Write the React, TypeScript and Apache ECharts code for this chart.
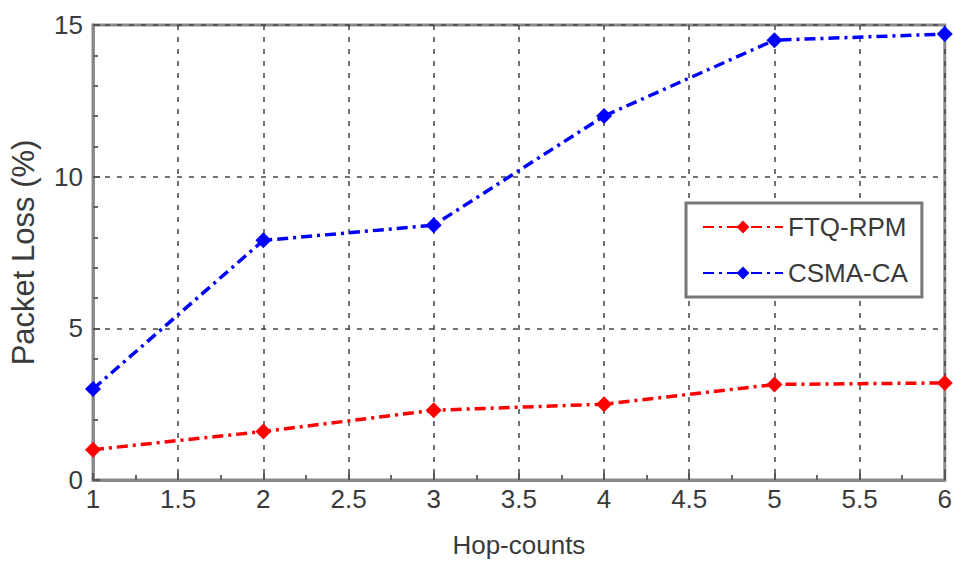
import React, { useEffect, useRef } from "react";
import * as echarts from "echarts";

const hops = [1, 2, 3, 4, 5, 6];
const ftqRpm = [1.0, 1.6, 2.3, 2.5, 3.15, 3.2];
const csmaCa = [3.0, 7.9, 8.4, 12.0, 14.5, 14.7];
const xTicks = [1, 1.5, 2, 2.5, 3, 3.5, 4, 4.5, 5, 5.5, 6];
const yTicks = [0, 5, 10, 15];

const FONT = "'Liberation Sans', Arial, sans-serif";
const TEXT = "#3a3a3a";

export default function App() {
  const ref = useRef<HTMLDivElement>(null);
  useEffect(() => {
    if (!ref.current) return;
    const chart = echarts.init(ref.current, undefined, { renderer: "svg" });
    const dashDot = [11, 5, 3, 5];
    chart.setOption({
      animation: false,
      backgroundColor: "#ffffff",
      grid: {
        left: 92,
        right: 8,
        top: 25,
        bottom: 85,
        show: true,
        borderColor: "#8a8a8a",
        borderWidth: 3,
      },
      legend: {
        orient: "vertical",
        left: 686,
        top: 203,
        padding: [9, 14, 9, 16],
        itemGap: 16,
        itemWidth: 80,
        itemHeight: 16,
        borderColor: "#777",
        borderWidth: 3,
        backgroundColor: "#fff",
        textStyle: { fontFamily: FONT, fontSize: 26, lineHeight: 30, color: TEXT },
        data: ["FTQ-RPM", "CSMA-CA"],
      },
      xAxis: {
        type: "value",
        min: 1,
        max: 6,
        interval: 0.5,
        name: "Hop-counts",
        nameLocation: "middle",
        nameGap: 52,
        nameTextStyle: { fontFamily: FONT, fontSize: 26, color: TEXT },
        axisLine: { show: true, lineStyle: { color: "#8a8a8a", width: 3 } },
        axisTick: { show: true, inside: true, length: 7, lineStyle: { color: "#555", width: 2 } },
        minorTick: { show: true, splitNumber: 2, length: 5, lineStyle: { color: "#666", width: 2 } },
        axisLabel: {
          fontFamily: FONT,
          fontSize: 26,
          color: TEXT,
          margin: 6,
          formatter: (v: number) => (xTicks.includes(v) ? String(v) : ""),
        },
        splitLine: { show: true, lineStyle: { color: "#444", type: [5, 7], width: 1.5 } },
      },
      yAxis: {
        type: "value",
        min: 0,
        max: 15,
        interval: 5,
        name: "Packet Loss (%)",
        nameLocation: "middle",
        nameGap: 54,
        nameTextStyle: { fontFamily: FONT, fontSize: 31, color: TEXT },
        axisLine: { show: true, lineStyle: { color: "#8a8a8a", width: 3 } },
        axisTick: { show: true, inside: true, length: 7, lineStyle: { color: "#555", width: 2 } },
        minorTick: { show: true, splitNumber: 5, length: 5, lineStyle: { color: "#666", width: 2 } },
        axisLabel: {
          fontFamily: FONT,
          fontSize: 26,
          color: TEXT,
          margin: 10,
          formatter: (v: number) => (yTicks.includes(v) ? String(v) : ""),
        },
        splitLine: { show: true, lineStyle: { color: "#444", type: [5, 7], width: 1.5 } },
      },
      series: [
        {
          name: "FTQ-RPM",
          type: "line",
          data: hops.map((h, i) => [h, ftqRpm[i]]),
          symbol: "diamond",
          symbolSize: 16,
          itemStyle: { color: "#ff0000" },
          lineStyle: { color: "#ff0000", width: 3.5, type: dashDot },
        },
        {
          name: "CSMA-CA",
          type: "line",
          data: hops.map((h, i) => [h, csmaCa[i]]),
          symbol: "diamond",
          symbolSize: 16,
          itemStyle: { color: "#0000ff" },
          lineStyle: { color: "#0000ff", width: 3.5, type: dashDot },
        },
      ],
    });
    return () => chart.dispose();
  }, []);
  return (
    <div
      ref={ref}
      style={{ position: "absolute", left: 0, top: 0, width: 955, height: 565 }}
    />
  );
}
